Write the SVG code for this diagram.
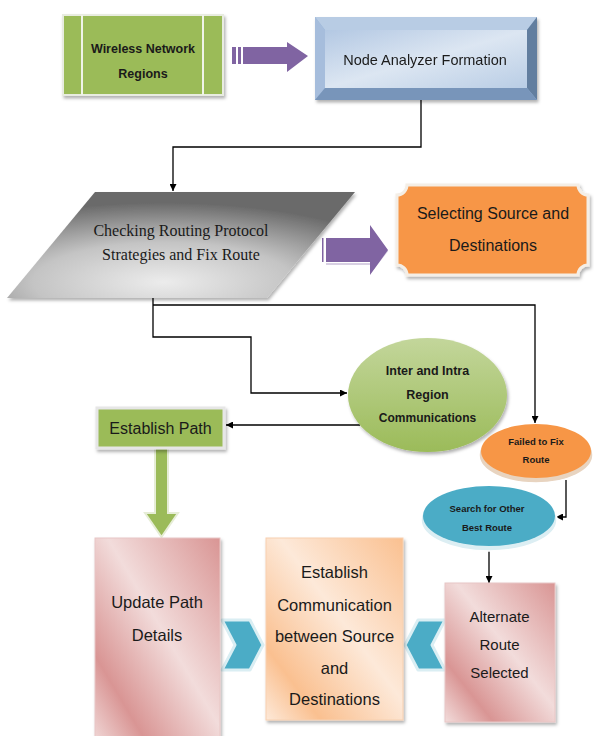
<svg xmlns="http://www.w3.org/2000/svg" width="594" height="736" viewBox="0 0 594 736">
<style>
.t{font-family:"Liberation Sans",Arial,sans-serif;fill:#1a1a1a;text-anchor:middle}
.b{font-weight:bold}
.s{font-family:"Liberation Serif","Times New Roman",serif;fill:#1a1a1a;text-anchor:middle}
.ln{fill:none;stroke:#000;stroke-width:1.3;marker-end:url(#ah)}
</style>
<defs>
<marker id="ah" viewBox="0 0 10 10" refX="10" refY="5" markerWidth="7" markerHeight="7" markerUnits="userSpaceOnUse" orient="auto"><path d="M0,0 L10,5 L0,10 z" fill="#000"/></marker>
<filter id="sh" x="-10%" y="-10%" width="125%" height="130%"><feDropShadow dx="1.5" dy="2.5" stdDeviation="1.5" flood-color="#000" flood-opacity="0.3"/></filter>
<linearGradient id="blue" x1="0" y1="0" x2="1" y2="1"><stop offset="0" stop-color="#B3C8E3"/><stop offset="0.5" stop-color="#DCE6F2"/><stop offset="1" stop-color="#B9CDE5"/></linearGradient>
<radialGradient id="gray" cx="0.45" cy="0.85" r="0.75"><stop offset="0" stop-color="#ECECEC"/><stop offset="0.5" stop-color="#C4C4C4"/><stop offset="1" stop-color="#6A6A6A"/></radialGradient>
<linearGradient id="grn" x1="0" y1="0" x2="0" y2="1"><stop offset="0" stop-color="#C3D69B"/><stop offset="1" stop-color="#9BBB59"/></linearGradient>
<linearGradient id="pink" x1="1" y1="0" x2="0" y2="1"><stop offset="0" stop-color="#D99594"/><stop offset="0.45" stop-color="#F2DCDB"/><stop offset="0.78" stop-color="#D99594"/><stop offset="1" stop-color="#F2DCDB"/></linearGradient>
<linearGradient id="peach" x1="1" y1="0" x2="0" y2="1"><stop offset="0" stop-color="#FAC090"/><stop offset="0.45" stop-color="#FDE9D9"/><stop offset="0.8" stop-color="#FAC090"/><stop offset="1" stop-color="#FDE9D9"/></linearGradient>
</defs>

<g id="connectors">
<path class="ln" d="M421,100 V147 H173 V191"/>
<path class="ln" d="M153,298 V337 H251 V393 H347"/>
<path class="ln" d="M153,305 H535 V423"/>
<path class="ln" d="M360,425 H226"/>
<path class="ln" d="M566,480 V517 H556"/>
<path class="ln" d="M489,548 V583"/>
<g id="purple-arrow-1" fill="#8064A2">
<rect x="232" y="47" width="4" height="17"/><rect x="238" y="47" width="3" height="17"/>
<path d="M243,47 H287 V42 L308,56 L287,72 V64 H243 Z"/>
</g>
<g id="purple-arrow-2">
<path d="M326,264 H372 V270 L387,251 L372,232" fill="none" stroke="#D8D0E3" stroke-width="2"/>
<rect x="322" y="238" width="1.5" height="24" fill="#8064A2"/>
<path d="M326,238 H370 V225 L388,250 L370,275 V262 H326 Z" fill="#8064A2"/>
</g>
<path id="green-arrow" d="M155,448 H168 V513 H178 L161.5,537 L145,513 H155 Z" fill="#9BBB59" stroke="#E6EDD6" stroke-width="2"/>
<path id="chevron-right" d="M222,620 H250 L263,645 L250,670 H222 L235,645 Z" fill="#4BACC6" stroke="#DAEEF3" stroke-width="3" stroke-linejoin="round"/>
<path id="chevron-left" d="M445,620 H418 L405,645 L418,670 H445 L432,645 Z" fill="#4BACC6" stroke="#DAEEF3" stroke-width="3" stroke-linejoin="round"/>
</g>

<g id="wireless">
<rect x="63" y="15" width="160" height="80" fill="#9BBB59" stroke="#E8ECE0" stroke-width="2" filter="url(#sh)"/>
<line x1="82" y1="15" x2="82" y2="95" stroke="#F0F4E8" stroke-width="2"/>
<line x1="203" y1="15" x2="203" y2="95" stroke="#F0F4E8" stroke-width="2"/>
<text class="t b" x="143" y="52.5" font-size="12.5">Wireless Network</text>
<text class="t b" x="143" y="77.5" font-size="12.5">Regions</text>
</g>

<g id="node-analyzer" filter="url(#sh)">
<rect x="315" y="17" width="222" height="83" fill="#95B3D7"/>
<path d="M315,17 H537 L527,30 H325 Z" fill="#B8CCE4"/>
<path d="M315,17 L325,30 V88 L315,100 Z" fill="#A6BDDC"/>
<path d="M537,17 L527,30 V88 L537,100 Z" fill="#627E9F"/>
<path d="M315,100 L325,88 H527 L537,100 Z" fill="#7895BA"/>
<rect x="325" y="30" width="202" height="58" fill="url(#blue)"/>
<text class="t" x="425" y="65" font-size="14.5">Node Analyzer Formation</text>
</g>

<g id="checking">
<path d="M95,192 H355 L267,298 H7 Z" fill="url(#gray)" filter="url(#sh)"/>
<text class="s" x="181" y="236" font-size="16">Checking Routing Protocol</text>
<text class="s" x="181" y="260" font-size="16">Strategies and Fix Route</text>
</g>

<g id="selecting">
<path d="M407,185 H578 A10,10 0 0 0 588,195 V265 A10,10 0 0 0 578,275 H407 A10,10 0 0 0 397,265 V195 A10,10 0 0 0 407,185 Z" fill="#F79646" stroke="#F4EEE6" stroke-width="3" filter="url(#sh)"/>
<text class="t" x="493" y="219" font-size="16">Selecting Source and</text>
<text class="t" x="493" y="251" font-size="16">Destinations</text>
</g>

<g id="inter-intra">
<ellipse cx="427.5" cy="395" rx="79.5" ry="57" fill="url(#grn)" filter="url(#sh)"/>
<text class="t b" x="427.5" y="375" font-size="12.5">Inter and Intra</text>
<text class="t b" x="427.5" y="399" font-size="12.5">Region</text>
<text class="t b" x="427.5" y="422" font-size="12">Communications</text>
</g>

<g id="establish-path">
<rect x="97" y="408" width="127" height="40" fill="#9BBB59" stroke="#E6E6E6" stroke-width="3" filter="url(#sh)"/>
<text class="t" x="160.5" y="433.5" font-size="16">Establish Path</text>
</g>

<g id="failed">
<ellipse cx="536" cy="455" rx="57" ry="28" fill="#E8D4C0" stroke="#FFFFFF" stroke-width="1.5"/>
<ellipse cx="536" cy="451" rx="55" ry="27" fill="#F79646"/>
<text class="t b" x="536" y="444.5" font-size="9.5">Failed to Fix</text>
<text class="t b" x="536" y="463" font-size="9.5">Route</text>
</g>

<g id="search">
<ellipse cx="489" cy="520" rx="68" ry="31" fill="#DCEEF3" stroke="#FFFFFF" stroke-width="1.5"/>
<ellipse cx="489" cy="516" rx="66" ry="30" fill="#4BACC6"/>
<text class="t b" x="487" y="511.5" font-size="9.5">Search for Other</text>
<text class="t b" x="487" y="530.5" font-size="9.5">Best Route</text>
</g>

<g id="update-path">
<rect x="95" y="538" width="125" height="210" fill="url(#pink)" stroke="#E8C6C5" stroke-width="1" filter="url(#sh)"/>
<text class="t" x="157" y="608" font-size="16.5">Update Path</text>
<text class="t" x="157" y="641" font-size="16.5">Details</text>
</g>

<g id="establish-comm">
<rect x="266" y="538" width="137" height="182" fill="url(#peach)" stroke="#F7D0B0" stroke-width="1" filter="url(#sh)"/>
<text class="t" x="334.5" y="578" font-size="16.5">Establish</text>
<text class="t" x="334.5" y="611" font-size="16.5">Communication</text>
<text class="t" x="334.5" y="642" font-size="16.5">between Source</text>
<text class="t" x="334.5" y="674" font-size="16.5">and</text>
<text class="t" x="334.5" y="705" font-size="16.5">Destinations</text>
</g>

<g id="alternate">
<rect x="445" y="583" width="110" height="139" fill="url(#pink)" stroke="#E8C6C5" stroke-width="1" filter="url(#sh)"/>
<text class="t" x="499.5" y="622" font-size="15">Alternate</text>
<text class="t" x="499.5" y="650" font-size="15">Route</text>
<text class="t" x="499.5" y="678" font-size="15">Selected</text>
</g>
</svg>
